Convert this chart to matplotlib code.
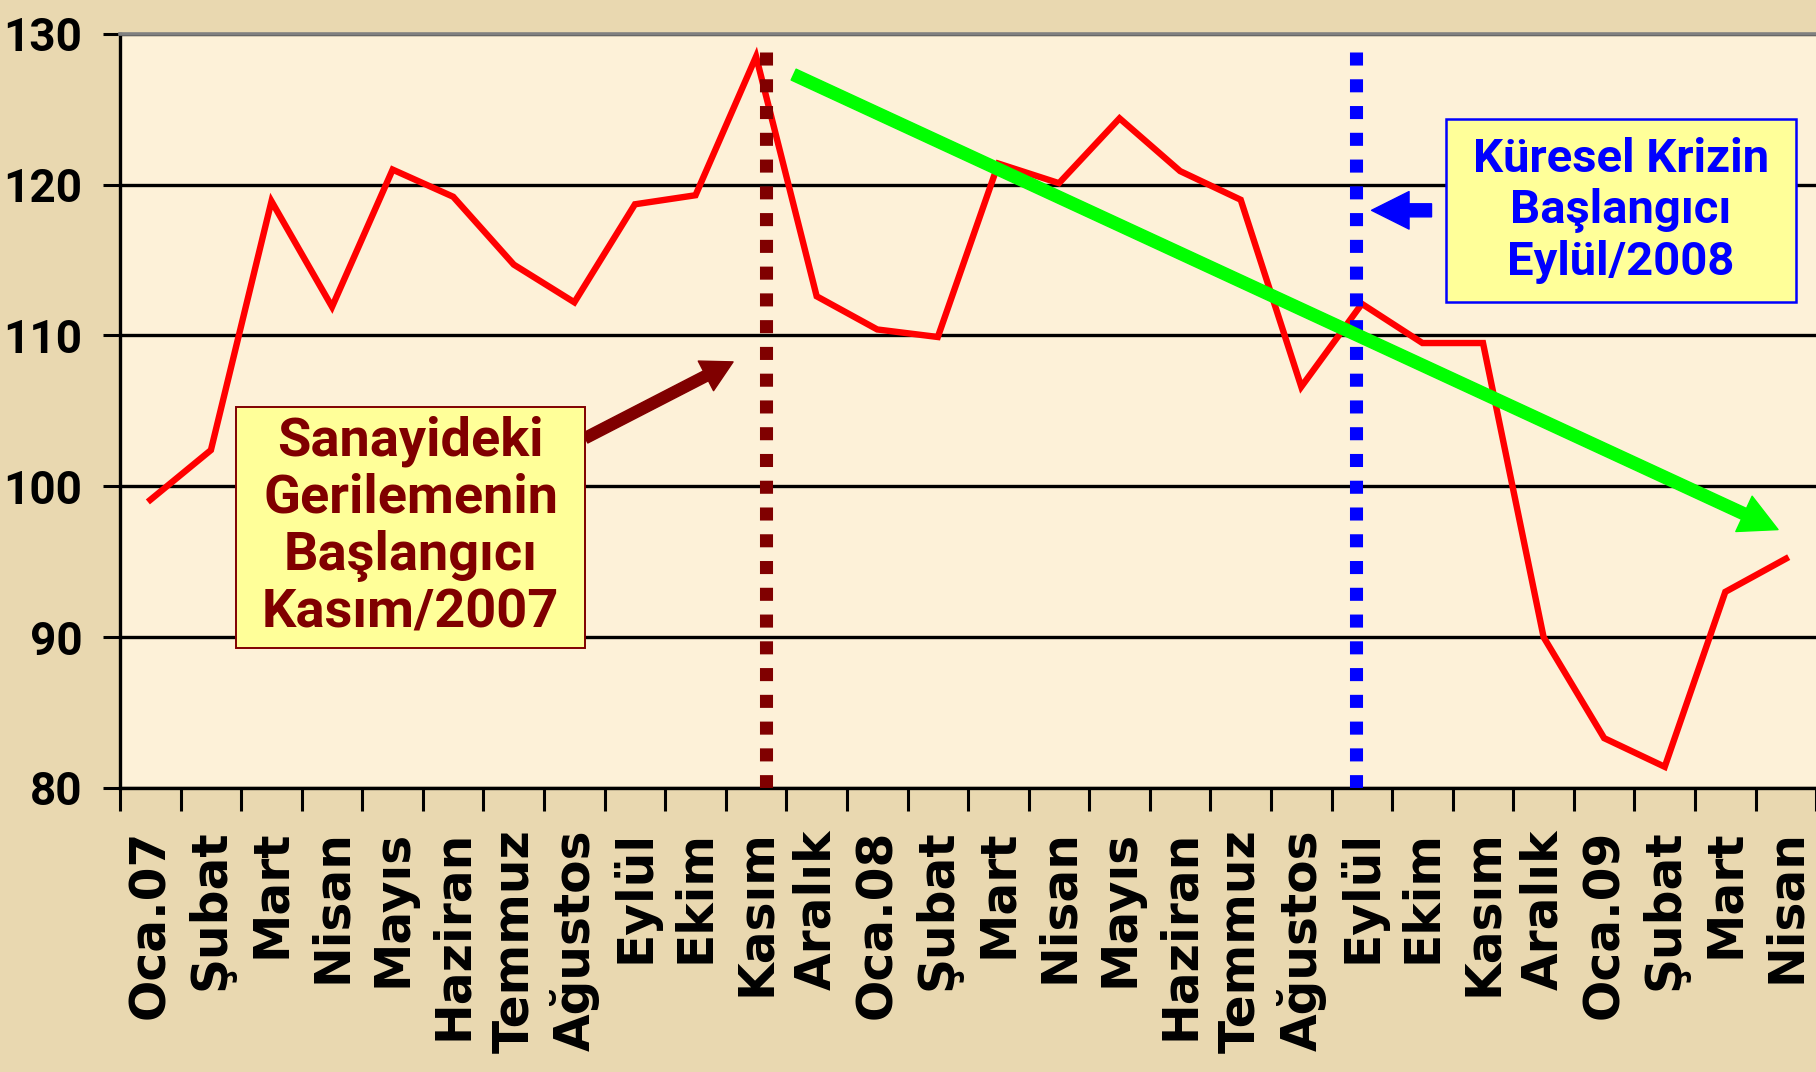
import numpy as np
import matplotlib
matplotlib.use("Agg")
import matplotlib.pyplot as plt
from matplotlib.patches import Rectangle, FancyArrowPatch

# monthly index values, Oca.07 .. Nisan 09
months = ["Oca.07", "Şubat", "Mart", "Nisan", "Mayıs", "Haziran", "Temmuz",
          "Ağustos", "Eylül", "Ekim", "Kasım", "Aralık",
          "Oca.08", "Şubat", "Mart", "Nisan", "Mayıs", "Haziran", "Temmuz",
          "Ağustos", "Eylül", "Ekim", "Kasım", "Aralık",
          "Oca.09", "Şubat", "Mart", "Nisan"]
values = [99.1, 102.4, 118.9, 111.9, 121.0, 119.2, 114.7, 112.2, 118.7, 119.3,
          128.5, 112.6, 110.4, 109.9, 121.4, 120.1, 124.4, 120.9, 119.0, 106.6,
          112.1, 109.5, 109.5, 90.0, 83.3, 81.4, 93.0, 95.2]
yticks = [80, 90, 100, 110, 120, 130]

box1_text = "Sanayideki\nGerilemenin\nBaşlangıcı\nKasım/2007"
box2_text = "Küresel Krizin\nBaşlangıcı\nEylül/2008"

BG = "#E9D8B0"
PLOT_BG = "#FDF1D8"
DARKRED = "#800000"
BLUE = "#0000FF"

fig = plt.figure(figsize=(18.16, 10.72), dpi=100, facecolor=BG)
ax = fig.add_axes([0.0661, 0.265, 0.934, 0.7034])
ax.set_facecolor(PLOT_BG)

x = np.arange(len(values))
ax.set_xlim(-0.5, len(values) - 0.5)
ax.set_ylim(80, 130)

# grid + spines
ax.set_yticks(yticks)
ax.yaxis.grid(True, color="black", linewidth=2.4)
ax.set_axisbelow(True)
for side in ["left", "bottom"]:
    ax.spines[side].set_color("black")
    ax.spines[side].set_linewidth(2.4)
ax.spines["top"].set_color("#808080")
ax.spines["top"].set_linewidth(2.6)
ax.spines["top"].set_zorder(5)
ax.spines["right"].set_visible(False)

ax.tick_params(axis="y", length=12, width=2.2, pad=15, color="black")
for lab in ax.get_yticklabels():
    lab.set_family("Roboto")
    lab.set_fontweight("bold")
    lab.set_fontsize(33)

# ticks at category boundaries, labels at the centres
ax.set_xticks(np.arange(-0.5, len(values), 1.0))
ax.set_xticklabels([])
ax.set_xticks(x, minor=True)
ax.set_xticklabels(months, minor=True, rotation=90, fontsize=35,
                   fontweight="bold", family="DejaVu Sans", va="top")
ax.tick_params(axis="x", which="major", length=16.5, width=2.2, color="black")
ax.tick_params(axis="x", which="minor", length=0, pad=30)

# the index line
ax.plot(x, values, color="#FF0000", linewidth=4.6, zorder=3,
        solid_joinstyle="miter")

# dotted markers for the two turning points
ax.plot([10.16, 10.16], [128.8, 80], color=DARKRED, linewidth=9.4,
        linestyle=(0, (1.0, 1.05)), zorder=4)
ax.plot([19.9, 19.9], [128.8, 80], color=BLUE, linewidth=9.4,
        linestyle=(0, (1.0, 1.05)), zorder=4)

# trend arrow
ax.add_patch(FancyArrowPatch((10.62, 127.3), (26.87, 97.13),
                             arrowstyle="simple,head_length=27,head_width=28,tail_width=8.6",
                             mutation_scale=1, shrinkA=0, shrinkB=0,
                             color="#00FF00", zorder=6))

# box 1
ax.add_patch(Rectangle((1.415, 89.28), 7.18 - 1.415, 105.27 - 89.28,
                       facecolor="#FFFF99", edgecolor=DARKRED, linewidth=1.4,
                       zorder=7))
ax.text((1.415 + 7.18) / 2, 97.3, box1_text, ha="center", va="center",
        color=DARKRED, fontsize=39, fontweight="bold", family="Roboto",
        linespacing=1.15, zorder=8)
ax.add_patch(FancyArrowPatch((7.18, 103.2), (9.62, 108.25),
                             arrowstyle="simple,head_length=22,head_width=24,tail_width=8",
                             mutation_scale=1, shrinkA=0, shrinkB=0,
                             color=DARKRED, zorder=6))

# box 2
ax.add_patch(Rectangle((21.39, 112.24), 27.16 - 21.39, 124.38 - 112.24,
                       facecolor="#FFFF99", edgecolor=BLUE, linewidth=1.8,
                       zorder=7))
ax.text((21.39 + 27.16) / 2, 118.3, box2_text, ha="center", va="center",
        color=BLUE, fontsize=34, fontweight="bold", family="Roboto",
        linespacing=1.2, zorder=8)
ax.add_patch(FancyArrowPatch((21.15, 118.3), (20.16, 118.3),
                             arrowstyle="simple,head_length=27,head_width=27,tail_width=9.4",
                             mutation_scale=1, shrinkA=0, shrinkB=0,
                             color=BLUE, zorder=6))

fig.savefig("out.png", dpi=100, facecolor=BG)
